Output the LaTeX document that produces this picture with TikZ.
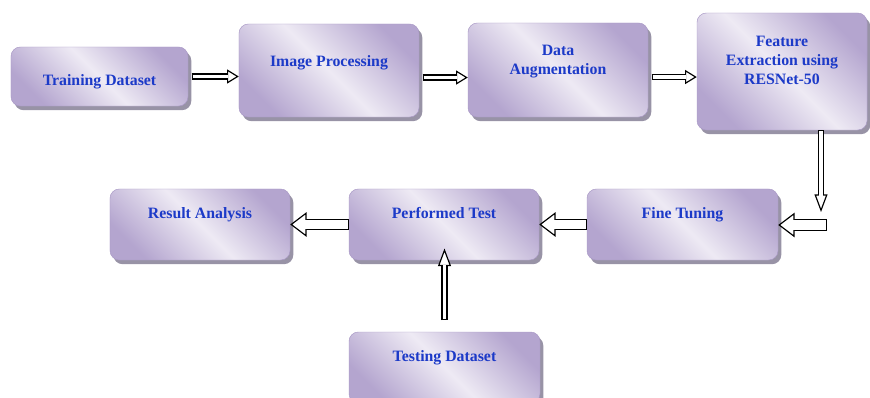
\documentclass[tikz,border=0pt]{standalone}
\usepackage{fontspec}
\setmainfont{Liberation Serif}
\usetikzlibrary{arrows.meta,shadows}

\definecolor{boxdark}{RGB}{180,165,207}
\definecolor{boxlight}{RGB}{238,234,244}
\definecolor{boxedge}{RGB}{170,154,198}
\definecolor{boxshadow}{RGB}{152,147,166}
\definecolor{boxtext}{RGB}{28,58,200}

\begin{document}
\begin{tikzpicture}[x=0.03cm, y=-0.03cm]
 \tikzstyle{etape}=[rectangle, rounded corners=8pt, draw=boxedge, thin, top color=boxdark, bottom color=boxdark, middle color=boxlight, shading angle=-45, drop shadow={shadow xshift=2.8pt, shadow yshift=-3.6pt, fill=boxshadow, opacity=1}, text=boxtext, font=\fontsize{13.5}{16}\selectfont\bfseries, align=center, text height=9pt]
 \tikzstyle{fleche}=[line width=5.2pt, -{Triangle[length=10pt, width=12pt, line width=1pt, fill=white]}, postaction={draw=white, line width=3.2pt, -, shorten >=9pt, shorten <=1pt}]
 \tikzstyle{flechevert}=[line width=5.4pt, -{Triangle[length=15pt, width=11pt, line width=1pt, fill=white]}, postaction={draw=white, line width=3.4pt, -, shorten >=14pt, shorten <=1pt}]
 \tikzstyle{flechelarge}=[line width=10.2pt, -{Triangle[length=14pt, width=21pt, line width=1pt, fill=white]}, postaction={draw=white, line width=8.2pt, -, shorten >=13pt, shorten <=1pt}]
 \useasboundingbox (0,0) rectangle (870,398);
 %
 \node[etape, minimum width=5.31cm, minimum height=1.77cm, text height=17.6pt, text depth=3pt] (train) at (99.5, 76.5) {Training Dataset};
 \node[etape, minimum width=5.4cm, minimum height=2.79cm, text depth=16.6pt] (imgproc) at (329, 70.5) {Image Processing};
 \node[etape, minimum width=5.4cm, minimum height=2.82cm, text depth=1.2pt] (augment) at (558, 70) {Data\\Augmentation};
 \node[etape, minimum width=5.1cm, minimum height=3.51cm, text height=24.9pt, text depth=3pt] (feature) at (782, 71.5) {Feature\\Extraction using\\RESNet-50};
 %
 \node[etape, minimum width=5.4cm, minimum height=2.13cm, text depth=20pt] (result) at (200, 224.5) {Result Analysis};
 \node[etape, minimum width=5.7cm, minimum height=2.13cm, text depth=20pt] (perf) at (444, 224.5) {Performed Test};
 \node[etape, minimum width=5.73cm, minimum height=2.13cm, text depth=20pt] (tuning) at (682.5, 224.5) {Fine Tuning};
 \node[etape, minimum width=5.73cm, minimum height=2.13cm, text depth=20pt] (testing) at (444.5, 367.5) {Testing Dataset};
 %
 \coordinate (coude) at (821, 212);
 \coordinate (retour) at (827, 225);
 %%
 \draw[fleche] ([xshift=2.8pt]train.east) -- (train.east -| imgproc.west);
 \draw[fleche] ([xshift=2.8pt, yshift=-6pt]imgproc.east) -- ([yshift=-6pt]imgproc.east -| augment.west);
 \draw[fleche] ([xshift=2.8pt, yshift=-6pt]augment.east) -- ([yshift=-6pt]augment.east -| feature.west);
 \draw[flechevert] (feature.south -| coude) -- (coude);
 \draw[flechelarge] (retour) -- (retour -| tuning.east);
 \draw[flechelarge] (tuning.west) -- (perf.east);
 \draw[flechelarge] (perf.west) -- (result.east);
 \draw[flechevert] ([yshift=10pt]testing.north) -- ([yshift=10pt]testing.north |- perf.south);
\end{tikzpicture}
\end{document}
